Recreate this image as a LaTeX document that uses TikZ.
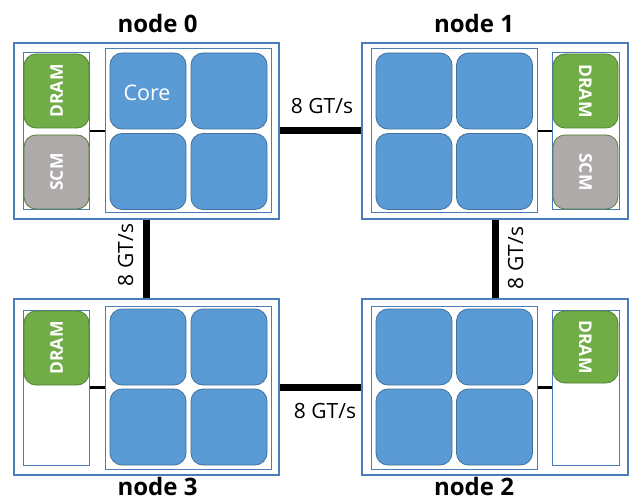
\documentclass[tikz,border=0pt]{standalone}
\usepackage{fontspec}
\setmainfont{Open Sans}
\definecolor{boxblue}{RGB}{74,126,187}
\definecolor{corefill}{RGB}{91,155,213}
\definecolor{coredraw}{RGB}{65,113,156}
\definecolor{dramfill}{RGB}{112,173,71}
\definecolor{dramdraw}{RGB}{84,130,53}
\definecolor{scmfill}{RGB}{174,170,170}
\begin{document}
\begin{tikzpicture}[x=1pt,y=-1pt,
  outerbox/.style={draw=boxblue, line width=1.6pt, fill=white, inner sep=0pt, minimum width=265pt, minimum height=176pt},
  corebox/.style={draw=boxblue, line width=1pt, fill=white, inner sep=0pt, minimum width=166pt, minimum height=163pt},
  membox/.style={draw=boxblue, line width=1pt, fill=white, inner sep=0pt, minimum width=66pt, minimum height=156pt},
  corecell/.style={draw=coredraw, line width=0.8pt, fill=corefill, rounded corners=12pt, inner sep=0pt, minimum width=76pt, minimum height=76pt, text=white, font=\fontsize{21.5}{25}\selectfont},
  dram/.style={draw=dramdraw, line width=0.8pt, fill=dramfill, rounded corners=12pt, inner sep=0pt, minimum width=65pt, minimum height=74pt},
  scm/.style={draw=dramdraw, line width=0.8pt, fill=scmfill, rounded corners=12pt, inner sep=0pt, minimum width=65pt, minimum height=74pt},
  memlabel/.style={text=white, font=\bfseries\fontsize{17.5}{20}\selectfont},
  title/.style={anchor=base, font=\bfseries\fontsize{24}{28}\selectfont},
  linklabel/.style={anchor=base, font=\fontsize{21}{25}\selectfont},
  link/.style={line width=7pt},
  memlink/.style={line width=2.8pt}
]
\useasboundingbox (0,0) rectangle (629,500);

% node 0
\node[outerbox] (n0) at (146.5,131) {};
\node[membox] (m0) at (56,131) {};
\node[dram] (d0) at (56.5,91) {};
\node[memlabel, rotate=90] (d0t) at (d0.center) {DRAM};
\node[scm] (s0) at (56.5,172) {};
\node[memlabel, rotate=90] (s0t) at (s0.center) {SCM};
\node[corebox] (c0) at (188.5,130.5) {};
\node[corecell] (c0a) at (148,91) {};
\node[corecell] (c0b) at (229,91) {};
\node[corecell] (c0c) at (148,171.5) {};
\node[corecell] (c0d) at (229,171.5) {};
\node[text=white, font=\fontsize{21.5}{25}\selectfont, anchor=base] (coret) at (147,101) {Core};
\draw[memlink] (m0.east) -- (m0.east -| c0.west);
\node[title] (t0) at (157.5,33) {node 0};

% node 1
\node[outerbox, minimum width=266pt] (n1) at (495,131) {};
\node[corebox] (c1) at (454,130.5) {};
\node[corecell] (c1a) at (414,91) {};
\node[corecell] (c1b) at (494.5,91) {};
\node[corecell] (c1c) at (414,171.5) {};
\node[corecell] (c1d) at (494.5,171.5) {};
\node[membox, minimum width=67pt] (m1) at (585.5,131) {};
\node[dram] (d1) at (585.5,91) {};
\node[memlabel, rotate=-90] (d1t) at (d1.center) {DRAM};
\node[scm] (s1) at (585.5,172) {};
\node[memlabel, rotate=-90] (s1t) at (s1.center) {SCM};
\draw[memlink] (m1.west) -- (m1.west -| c1.east);
\node[title] (t1) at (474,33) {node 1};

% node 3
\node[outerbox] (n3) at (146.5,387) {};
\node[membox, minimum height=155pt] (m3) at (56,387.5) {};
\node[dram] (d3) at (56.5,348) {};
\node[memlabel, rotate=90] (d3t) at (d3.center) {DRAM};
\node[corebox] (c3) at (188.5,387.5) {};
\node[corecell] (c3a) at (148,347) {};
\node[corecell] (c3b) at (229,347) {};
\node[corecell] (c3c) at (148,427) {};
\node[corecell] (c3d) at (229,427) {};
\draw[memlink] (m3.east) -- (m3.east -| c3.west);
\node[title] (t3) at (157.5,495.5) {node 3};

% node 2
\node[outerbox, minimum width=266pt] (n2) at (495,387) {};
\node[corebox] (c2) at (454,387.5) {};
\node[corecell] (c2a) at (414,347) {};
\node[corecell] (c2b) at (494.5,347) {};
\node[corecell] (c2c) at (414,427) {};
\node[corecell] (c2d) at (494.5,427) {};
\node[membox, minimum width=67pt, minimum height=155pt] (m2) at (585.5,387.5) {};
\node[dram, minimum height=72pt] (d2) at (585.5,347) {};
\node[memlabel, rotate=-90] (d2t) at (d2.center) {DRAM};
\draw[memlink] (m2.west) -- (m2.west -| c2.east);
\node[title] (t2) at (474,495.5) {node 2};

% links
\draw[link] (n0) -- (n1);
\draw[link] (n3) -- (n2);
\draw[link] (n0) -- (n3);
\draw[link] (n1) -- (n2);
\node[linklabel] (l01) at (322,114) {8 GT/s};
\node[linklabel] (l32) at (325,418) {8 GT/s};
\node[linklabel, rotate=90] (l03) at (133,255) {8 GT/s};
\node[linklabel, rotate=90] (l12) at (523,258) {8 GT/s};
\end{tikzpicture}
\end{document}
